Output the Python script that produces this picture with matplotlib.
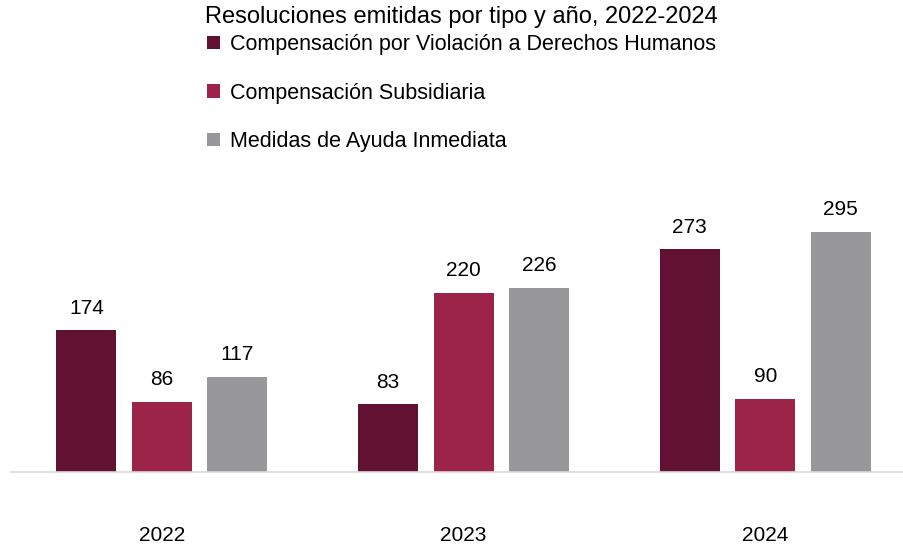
import numpy as np
import matplotlib
matplotlib.use("Agg")
import matplotlib.pyplot as plt

plt.rcParams['font.family'] = ['Liberation Sans', 'DejaVu Sans']

# datos
years = ["2022", "2023", "2024"]
series_names = [
    "Compensación por Violación a Derechos Humanos",
    "Compensación Subsidiaria",
    "Medidas de Ayuda Inmediata",
]
cdh = [174, 83, 273]
subsidiaria = [86, 220, 90]
ayuda = [117, 226, 295]
colors = ["#611232", "#9D2449", "#98989A"]

fig = plt.figure(figsize=(9.04, 5.48), dpi=100)
ax = fig.add_axes([11 / 904, 76 / 548, 893 / 904, 282 / 548])

x = np.arange(len(years))
width = 0.199
step = 0.25
bars = []
for i, (vals, name, col) in enumerate(zip([cdh, subsidiaria, ayuda], series_names, colors)):
    b = ax.bar(x + (i - 1) * step, vals, width, color=col, label=name)
    bars.append(b)
    for rect, v in zip(b, vals):
        ax.annotate(str(v), (rect.get_x() + rect.get_width() / 2, v),
                    xytext=(0, 9), textcoords="offset points",
                    ha="center", va="bottom", fontsize=15)

ax.set_xlim(-0.5, 2.46)
ax.set_ylim(0, 346)
ax.set_yticks([])
ax.set_xticks(x)
ax.set_xticklabels(years, fontsize=15)
ax.tick_params(axis="x", length=0, pad=39)
for s in ["top", "right", "left"]:
    ax.spines[s].set_visible(False)
ax.spines["bottom"].set_color("#D9D9D9")
ax.spines["bottom"].set_linewidth(1.2)

fig.text(0.5105, 0.969, "Resoluciones emitidas por tipo y año, 2022-2024",
         ha="center", va="center", fontsize=17)

fig.legend(handles=bars, loc="upper left", bbox_to_anchor=(0.229, 0.938),
           frameon=False, fontsize=15.5, handlelength=0.6, handleheight=0.6,
           handletextpad=0.45, labelspacing=1.28, borderaxespad=0, borderpad=0)

fig.savefig("out.png", dpi=100)
